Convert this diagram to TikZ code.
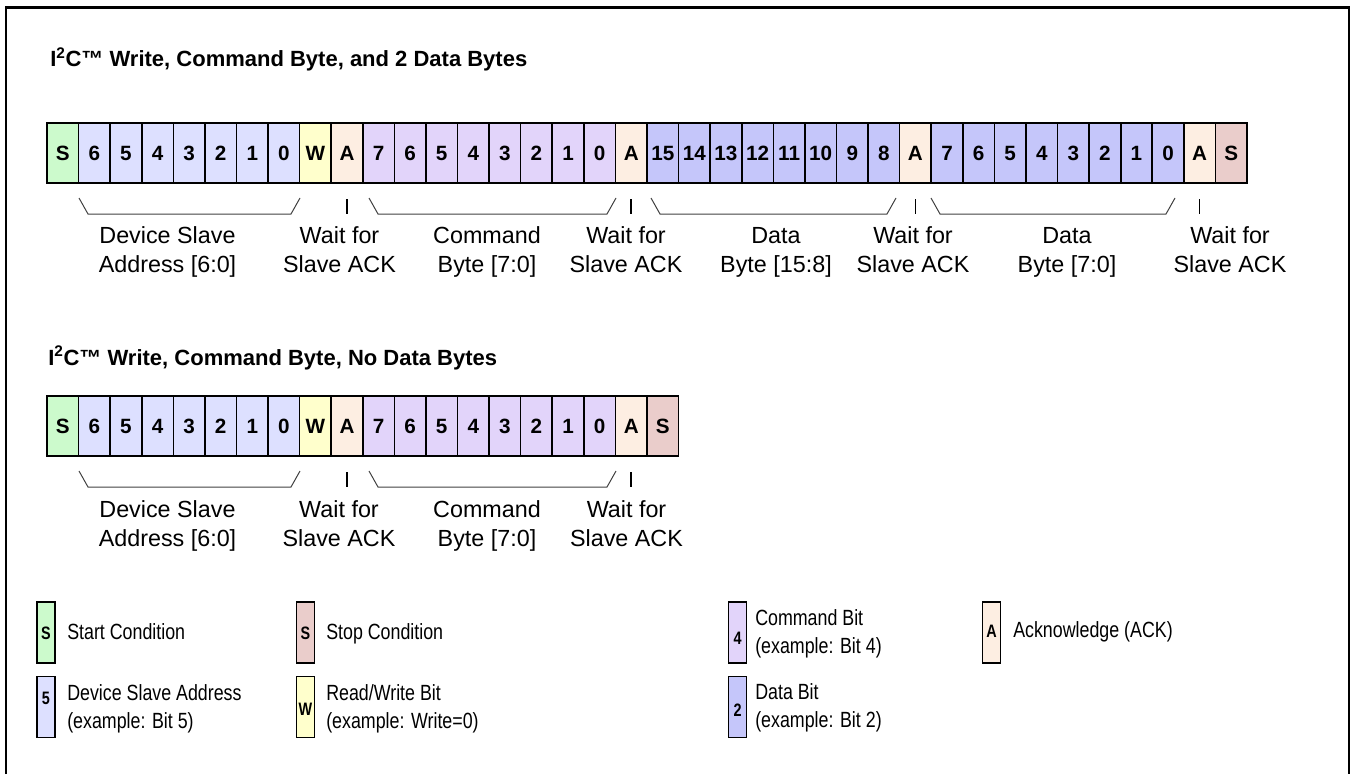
\documentclass[tikz,border=0pt]{standalone}
\usepackage{fontspec}
\setmainfont{Liberation Sans}
\usepackage{graphicx}
\usetikzlibrary{calc}
\definecolor{stC}{RGB}{204,250,204}
\definecolor{adC}{RGB}{221,224,255}
\definecolor{wrC}{RGB}{255,255,204}
\definecolor{akC}{RGB}{253,238,226}
\definecolor{cmC}{RGB}{226,212,250}
\definecolor{dtC}{RGB}{197,198,250}
\definecolor{spC}{RGB}{234,205,203}
\newcommand\lblc[2]{\begin{tabular}{@{}c@{}}#1\\#2\end{tabular}}
\newcommand\lgl[2]{\scalebox{0.81}[1]{\begin{tabular}{@{}l@{}}#1\\#2\end{tabular}}}
\newcommand\lgs[1]{\scalebox{0.81}[1]{\begin{tabular}{@{}l@{}}#1\end{tabular}}}
\tikzset{
 cell/.style={draw=black, line width=1.2pt, minimum width=23.684pt, minimum height=45pt, inner sep=0pt, outer sep=0pt, font=\fontsize{15.5}{18}\selectfont\bfseries, text height=11pt, text depth=0pt},
 brace/.style={draw=black!75, line width=0.75pt},
 tick/.style={draw=black, line width=1.1pt},
 lbl/.style={anchor=north, inner sep=0pt, font=\fontsize{17.5}{21.75}\selectfont},
 ttl/.style={anchor=base west, inner sep=0pt, font=\fontsize{16.5}{19}\selectfont\bfseries},
 lgbox/.style={draw=black, line width=1.1pt, minimum width=13.5pt, minimum height=45.75pt, inner sep=0pt, outer sep=0pt},
 lgletter/.style={inner sep=0pt, font=\fontsize{13.5}{15}\selectfont\bfseries, text height=9.6pt, text depth=0pt},
 lgtext/.style={anchor=north west, inner sep=0pt, font=\fontsize{16.5}{21}\selectfont},
 frame/.style={draw=black, line width=1.7pt},
}
\begin{document}
\begin{tikzpicture}[x=0.75pt, y=-0.75pt]
\useasboundingbox (0,0) rectangle (1351,774);
\draw[frame] (6,774) -- (6,7.5) -- (1349,7.5) -- (1349,774);

% titles
\node[ttl] (t1) at (50,67) {I\textsuperscript{2}C\texttrademark{} Write, Command Byte, and 2 Data Bytes};
\node[ttl] (t2) at (48,365) {I\textsuperscript{2}C\texttrademark{} Write, Command Byte, No Data Bytes};

% row 1
\foreach \t/\c [count=\i from 0] in {S/stC,6/adC,5/adC,4/adC,3/adC,2/adC,1/adC,0/adC,W/wrC,A/akC,
  7/cmC,6/cmC,5/cmC,4/cmC,3/cmC,2/cmC,1/cmC,0/cmC,A/akC,
  15/dtC,14/dtC,13/dtC,12/dtC,11/dtC,10/dtC,9/dtC,8/dtC,A/akC,
  7/dtC,6/dtC,5/dtC,4/dtC,3/dtC,2/dtC,1/dtC,0/dtC,A/akC,S/spC}
  {\node[cell, fill=\c] (r1c\i) at ({47+(\i+0.5)*31.5789},153) {\t};}

% row 2
\foreach \t/\c [count=\i from 0] in {S/stC,6/adC,5/adC,4/adC,3/adC,2/adC,1/adC,0/adC,W/wrC,A/akC,
  7/cmC,6/cmC,5/cmC,4/cmC,3/cmC,2/cmC,1/cmC,0/cmC,A/akC,S/spC}
  {\node[cell, fill=\c] (r2c\i) at ({47+(\i+0.5)*31.5789},426) {\t};}

% braces row 1
\foreach \xs/\xe in {79/300,369/616,651/896,931/1175}
  {\draw[brace] (\xs,198) -- (\xs+9,214) -- (\xe-9,214) -- (\xe,198);}
% braces row 2
\foreach \xs/\xe in {79/300,369/616}
  {\draw[brace] (\xs,471) -- (\xs+9,487) -- (\xe-9,487) -- (\xe,471);}

% ticks
\foreach \n in {r1c9,r1c18,r1c27,r1c36,r2c9,r2c18}
  {\draw[tick] ($(\n.south)+(0,16)$) -- ($(\n.south)+(0,31)$);}

% labels row 1
\node[lbl] (l1a) at (167.5,222.7) {\lblc{Device Slave}{Address [6:0]}};
\node[lbl] (l1b) at (339.5,222.7) {\lblc{Wait for}{Slave ACK}};
\node[lbl] (l1c) at (487,222.7) {\lblc{Command}{Byte [7:0]}};
\node[lbl] (l1d) at (626,222.7) {\lblc{Wait for}{Slave ACK}};
\node[lbl] (l1e) at (776,222.7) {\lblc{Data}{Byte [15:8]}};
\node[lbl] (l1f) at (913,222.7) {\lblc{Wait for}{Slave ACK}};
\node[lbl] (l1g) at (1067,222.7) {\lblc{Data}{Byte [7:0]}};
\node[lbl] (l1h) at (1230,222.7) {\lblc{Wait for}{Slave ACK}};
% labels row 2
\node[lbl] (l2a) at (167.5,496.7) {\lblc{Device Slave}{Address [6:0]}};
\node[lbl] (l2b) at (339,496.7) {\lblc{Wait for}{Slave ACK}};
\node[lbl] (l2c) at (487,496.7) {\lblc{Command}{Byte [7:0]}};
\node[lbl] (l2d) at (626.5,496.7) {\lblc{Wait for}{Slave ACK}};

% legend
\node[lgbox, fill=stC] (gS) at (46,632.5) {};
\node[lgletter] (gSl) at (46,633) {\scalebox{0.8}[1]{S}};
\node[lgtext] (gSt) at (67,619.4) {\lgs{Start Condition}};

\node[lgbox, fill=spC] (gP) at (305.5,632.5) {};
\node[lgletter] (gPl) at (305.5,633) {\scalebox{0.8}[1]{S}};
\node[lgtext] (gPt) at (326,619.4) {\lgs{Stop Condition}};

\node[lgbox, fill=adC] (gD) at (46,707) {};
\node[lgletter] (gDl) at (46,698) {\scalebox{0.8}[1]{5}};
\node[lgtext] (gDt) at (67,681) {\lgl{Device Slave Address}{(example: Bit 5)}};

\node[lgbox, fill=wrC] (gW) at (305.5,707) {};
\node[lgletter] (gWl) at (305.5,709) {\scalebox{0.8}[1]{W}};
\node[lgtext] (gWt) at (326,681) {\lgl{Read/Write Bit}{(example: Write=0)}};

\node[lgbox, fill=cmC] (gC) at (737.5,632.5) {};
\node[lgletter] (gCl) at (737.5,638) {\scalebox{0.8}[1]{4}};
\node[lgtext] (gCt) at (755,606) {\lgl{Command Bit}{(example: Bit 4)}};

\node[lgbox, fill=dtC] (gT) at (737.5,707) {};
\node[lgletter] (gTl) at (737.5,710) {\scalebox{0.8}[1]{2}};
\node[lgtext] (gTt) at (755,680) {\lgl{Data Bit}{(example: Bit 2)}};

\node[lgbox, fill=akC] (gA) at (991.5,632.5) {};
\node[lgletter] (gAl) at (991.5,631) {\scalebox{0.8}[1]{A}};
\node[lgtext] (gAt) at (1013,618) {\lgs{Acknowledge (ACK)}};
\end{tikzpicture}
\end{document}
